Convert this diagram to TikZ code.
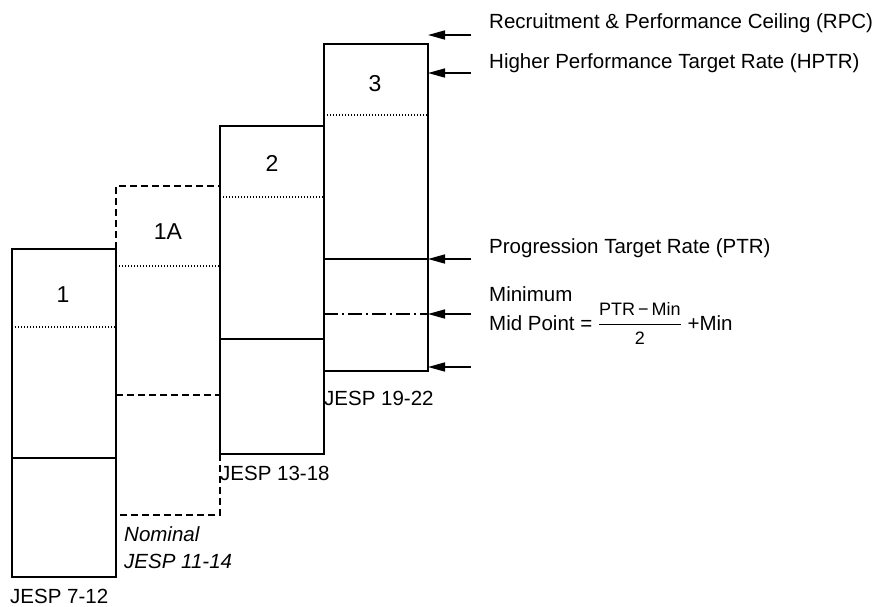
\documentclass[tikz,border=0pt]{standalone}
\usepackage{amsmath}
\usepackage{fontspec}
\setmainfont{Liberation Sans}
\usetikzlibrary{arrows.meta}

\newcommand{\fracfont}{\fontsize{18}{20}\selectfont}

\begin{document}
\begin{tikzpicture}[
    x=1pt, y=-1pt,
    box/.style={line width=1.6pt},
    nominal/.style={line width=1.6pt, dash pattern=on 7pt off 4pt},
    band/.style={line width=1.3pt, dash pattern=on 1.3pt off 1.7pt},
    midline/.style={line width=1.6pt, dash pattern=on 14pt off 4pt on 2pt off 4pt},
    arrow/.style={-{Triangle[length=17pt, width=9pt]}, line width=1.6pt},
    grade/.style={font=\fontsize{23}{27}\selectfont, anchor=base, inner sep=0pt},
    note/.style={font=\fontsize{20.5}{24}\selectfont, anchor=base west, inner sep=0pt}
]
\useasboundingbox (0,0) rectangle (886,606);

% Box 1
\draw[box] (12,249) rectangle (116,577);
\draw[band] (12,327) -- (116,327);
\draw[box] (12,458) -- (116,458);

% Box 1A (nominal, dashed)
\draw[nominal] (116,249) -- (116,186) -- (220,186);
\draw[nominal] (220,454) -- (220,515) -- (116,515);
\draw[band] (116,266) -- (220,266);
\draw[nominal] (116,395) -- (220,395);

% Box 2
\draw[box] (220,126) rectangle (324,454);
\draw[band] (220,197) -- (324,197);
\draw[box] (220,339) -- (324,339);

% Box 3
\draw[box] (324,44) rectangle (428,371);
\draw[band] (324,115) -- (428,115);
\draw[box] (324,259) -- (428,259);
\draw[midline] (324,314) -- (428,314);

% Grade numbers
\node[grade] (g1) at (63,302) {1};
\node[grade] (g1a) at (168,239) {1A};
\node[grade] (g2) at (272,171) {2};
\node[grade] (g3) at (375,91) {3};

% Grade ranges
\node[note] (r1) at (10,603) {JESP 7-12};
\node[note, font=\fontsize{20.5}{24}\selectfont\itshape] (nom) at (124,541) {Nominal};
\node[note, font=\fontsize{20.5}{24}\selectfont\itshape] (r1a) at (124,568) {JESP 11-14};
\node[note] (r2) at (220,480) {JESP 13-18};
\node[note] (r3) at (324,405) {JESP 19-22};

% Arrows
\foreach \name/\y in {rpc/35, hptr/73, ptr/259, mid/314, min/367} {
    \coordinate (\name tip) at (428,\y);
    \coordinate (\name tail) at (471,\y);
    \draw[arrow] (\name tail) -- (\name tip);
}

% Point labels
\node[note] (rpc) at (489,28) {Recruitment \& Performance Ceiling (RPC)};
\node[note] (hptr) at (489,68) {Higher Performance Target Rate (HPTR)};
\node[note] (ptr) at (489,253) {Progression Target Rate (PTR)};
\node[note] (minimum) at (489,301) {Minimum};
\node[note] (midpoint) at (489,330) {Mid Point = $\dfrac{\text{\fracfont PTR\,−\,Min}}{\text{\fracfont 2}}$ +Min};

\end{tikzpicture}
\end{document}
